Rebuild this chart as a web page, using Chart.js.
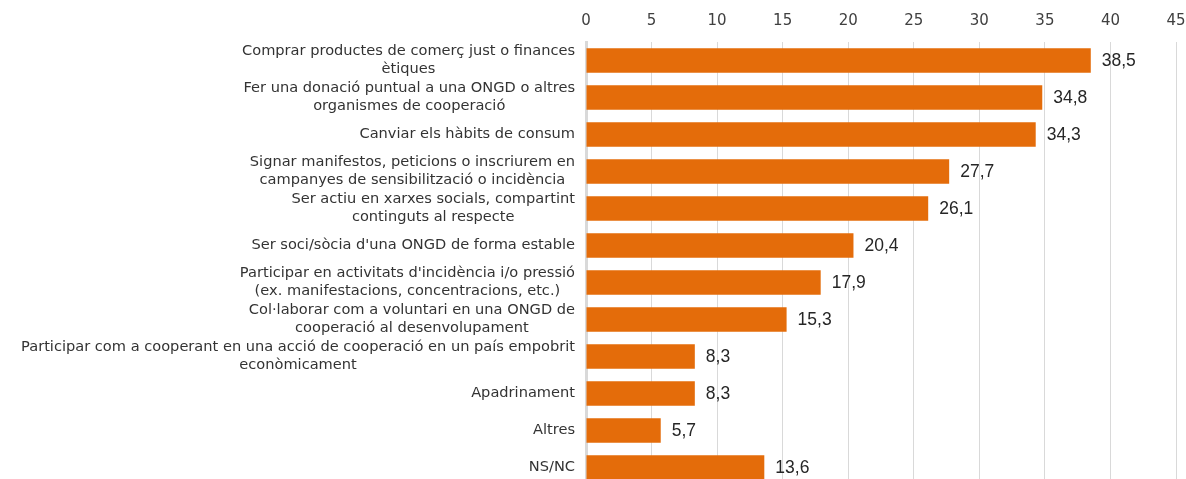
<!DOCTYPE html>
<html>
<head>
    <title>Accions de cooperació</title>
    <script src="https://cdn.jsdelivr.net/npm/chart.js@4.4.0/dist/chart.umd.min.js"></script>
    <style>
        html, body { margin: 0; padding: 0; overflow: hidden; background: #fff; }
        #wrap { width: 1186px; height: 486px; position: relative; }
    </style>
</head>
<body>
<div id="wrap"><canvas id="canvas"></canvas></div>
<script>
    var categories = [
        ["Comprar productes de comerç just o finances", "ètiques"],
        ["Fer una donació puntual a una ONGD o altres", "organismes de cooperació"],
        ["Canviar els hàbits de consum"],
        ["Signar manifestos, peticions o inscriurem en", "campanyes de sensibilització o incidència"],
        ["Ser actiu en xarxes socials, compartint", "continguts al respecte"],
        ["Ser soci/sòcia d'una ONGD de forma estable"],
        ["Participar en activitats d'incidència i/o pressió", "(ex. manifestacions, concentracions, etc.)"],
        ["Col·laborar com a voluntari en una ONGD de", "cooperació al desenvolupament"],
        ["Participar com a cooperant en una acció de cooperació en un país empobrit", "econòmicament"],
        ["Apadrinament"],
        ["Altres"],
        ["NS/NC"]
    ];
    var values = [38.5, 34.8, 34.3, 27.7, 26.1, 20.4, 17.9, 15.3, 8.3, 8.3, 5.7, 13.6];

    // category labels (lines centred on each other) and value labels
    var labelPlugin = {
        id: 'labels',
        afterDraw: function(chart) {
            var ctx = chart.ctx;
            var yScale = chart.scales.y;
            ctx.save();
            ctx.font = '14.6px "DejaVu Sans"';
            ctx.fillStyle = '#333333';
            ctx.textAlign = 'center';
            ctx.textBaseline = 'middle';
            categories.forEach(function(lines, i) {
                var cy = yScale.getPixelForValue(i);
                var w = Math.max.apply(null, lines.map(function(l) { return ctx.measureText(l).width; }));
                var cx = yScale.right - 11 - w / 2;
                lines.forEach(function(l, j) {
                    ctx.fillText(l, cx, cy + (j - (lines.length - 1) / 2) * 18);
                });
            });
            var meta = chart.getDatasetMeta(0);
            ctx.font = '17.5px "Liberation Sans"';
            ctx.fillStyle = '#262626';
            ctx.textAlign = 'left';
            meta.data.forEach(function(bar, i) {
                ctx.fillText(values[i].toFixed(1).replace('.', ','), bar.x + 11, bar.y + 1);
            });
            ctx.restore();
        }
    };

    var ctx = document.getElementById("canvas").getContext("2d");
    var myBarChart = new Chart(ctx, {
        type: 'bar',
        data: {
            labels: categories,
            datasets: [{
                data: values,
                backgroundColor: '#E46C0A',
                barPercentage: 0.66,
                categoryPercentage: 1
            }]
        },
        options: {
            indexAxis: 'y',
            responsive: true,
            maintainAspectRatio: false,
            animation: false,
            layout: { padding: { left: 0, right: 10, top: 0, bottom: 0 } },
            plugins: {
                legend: { display: false },
                tooltip: { enabled: false }
            },
            scales: {
                x: {
                    position: 'top',
                    min: 0,
                    max: 45,
                    ticks: {
                        stepSize: 5,
                        padding: 12,
                        color: '#404040',
                        font: { family: 'DejaVu Sans', size: 15 }
                    },
                    grid: { color: '#d9d9d9', lineWidth: 1, drawTicks: false },
                    border: { display: false },
                    afterFit: function(scale) {
                        scale.height = 42;
                        scale.paddingLeft = 0;
                        scale.paddingRight = 0;
                    }
                },
                y: {
                    z: 1,
                    ticks: { display: false },
                    grid: { display: false, drawTicks: false },
                    border: { color: '#d9d9d9', width: 3 },
                    afterFit: function(scale) { scale.width = 586; }
                }
            }
        },
        plugins: [labelPlugin]
    });
</script>
</body>
</html>
